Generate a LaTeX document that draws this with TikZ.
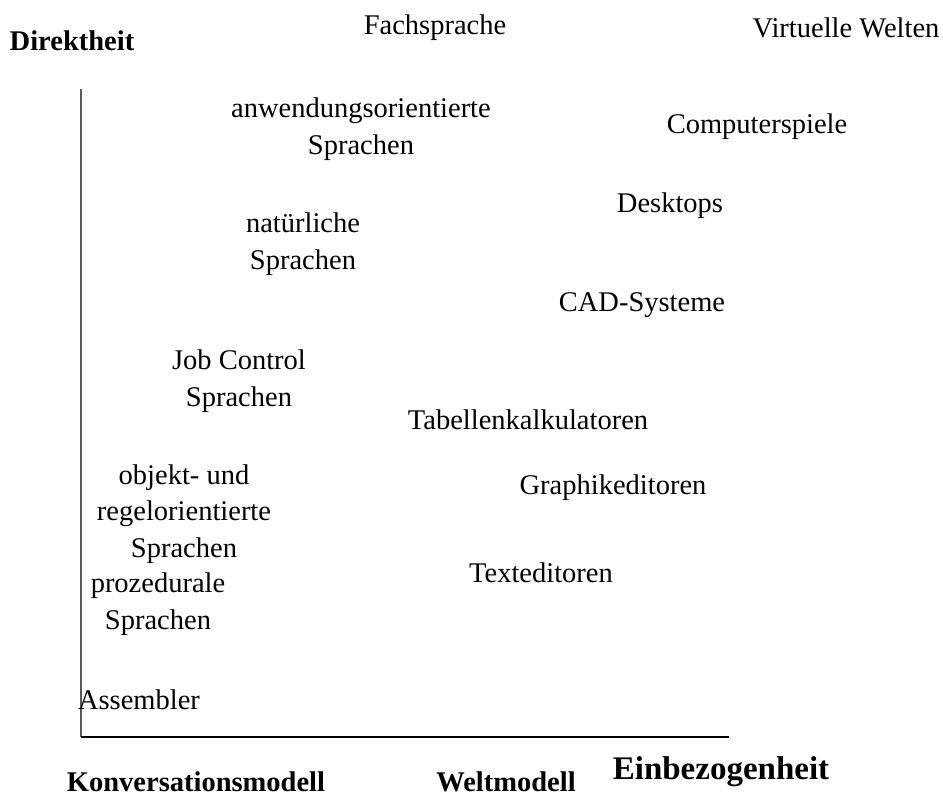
\documentclass[tikz,border=0pt]{standalone}
\usepackage{fontspec}
\setmainfont{Liberation Serif}
\tikzset{
  lbl/.style={inner sep=0pt, align=center, font=\fontsize{28.5}{36.5}\selectfont},
  blbl/.style={inner sep=0pt, align=center, font=\fontsize{28.5}{36.5}\selectfont\bfseries},
  axisv/.style={draw=black!65, line width=1.6pt},
  axish/.style={draw=black, line width=1.4pt}
}
\begin{document}
\begin{tikzpicture}[x=1pt,y=-1pt]
\useasboundingbox (0,0) rectangle (943,796);
\coordinate (top) at (81,89);
\coordinate (orig) at (81,737);
\coordinate (right) at (729,737);
\draw[axisv] (top) -- (orig);
\draw[axish] (orig) -- (right);

\node[blbl] (direkt) at (72,41) {Direktheit};
\node[lbl] (fach) at (435,28) {Fachsprache};
\node[lbl] (virt) at (846,28) {Virtuelle Welten};
\node[lbl] (anw) at (361,129) {anwendungsorientierte\\Sprachen};
\node[lbl] (comp) at (757,127) {Computerspiele};
\node[lbl] (nat) at (303,244) {natürliche\\Sprachen};
\node[lbl] (desk) at (670,206) {Desktops};
\node[lbl] (cad) at (642,305) {CAD-Systeme};
\node[lbl] (job) at (239,381) {Job Control\\Sprachen};
\node[lbl] (tab) at (528,420) {Tabellenkalkulatoren};
\node[lbl] (obj) at (184,514) {objekt- und\\regelorientierte\\Sprachen};
\node[lbl] (graph) at (613,488) {Graphikeditoren};
\node[lbl] (proz) at (158,604) {prozedurale\\Sprachen};
\node[lbl] (text) at (541,573) {Texteditoren};
\node[lbl] (ass) at (139,700) {Assembler};
\node[blbl, text depth=0pt, anchor=base] (konv) at (196,791) {Konversationsmodell};
\node[blbl, text depth=0pt, anchor=base] (welt) at (506,791) {Weltmodell};
\node[inner sep=0pt, font=\fontsize{33}{40}\selectfont\bfseries] (einb) at (721,772) {Einbezogenheit};
\end{tikzpicture}
\end{document}
